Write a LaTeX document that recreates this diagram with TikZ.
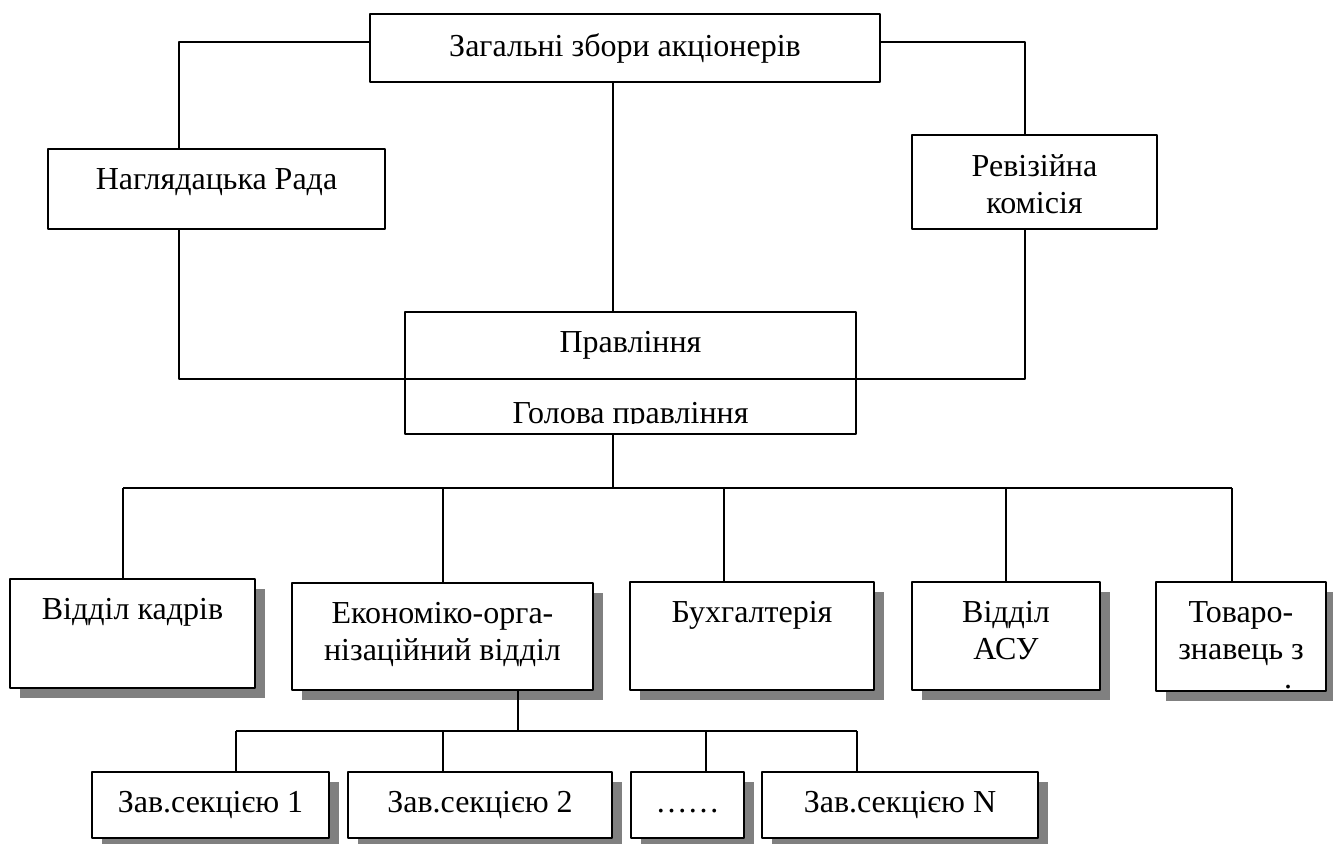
\documentclass[tikz,border=0pt]{standalone}
\usepackage{fontspec}
\setmainfont{Liberation Serif}
\usetikzlibrary{positioning,fit,shadows}

\begin{document}
\begin{tikzpicture}[x=0.5pt, y=-0.5pt, line join=round, font=\fontsize{16}{18.5}\selectfont,
  box/.style={draw, line width=0.9pt, fill=white, inner sep=0pt},
  shbox/.style={box, line width=1.2pt, drop shadow={shadow xshift=5pt, shadow yshift=-5pt, opacity=1, fill=black!50}},
  txt/.style={anchor=north, align=center, inner sep=0pt, yshift=-10pt},
  conn/.style={line width=0.8pt}]
\useasboundingbox (0,0) rectangle (1333,843);
% upper level
\node[box, fit={(370,14) (880,82)},   label={[txt]north:Загальні збори акціонерів}] (zag) {};
\node[box, fit={(48,149) (385,229)},  label={[txt]north:Наглядацька Рада}] (nag) {};
\node[box, fit={(912,135) (1157,229)},label={[txt]north:{Ревізійна\\комісія}}] (rev) {};
\node[box, fit={(405,379) (856,434)}] (golova) {};
\begin{scope}
\clip (405,379) rectangle (856,423);
\node[txt, yshift=-2pt] (golova-t) at (golova.north) {Голова правління};
\end{scope}
\node[box, fit={(405,312) (856,379)}, label={[txt]north:Правління}] (prav) {};
% departments
\node[shbox, fit={(10,579) (255,688)},   label={[txt]north:Відділ кадрів}] (kadry) {};
\node[shbox, fit={(292,583) (593,690)},  label={[txt]north:{Економіко-орга-\\нізаційний відділ}}] (econ) {};
\node[shbox, fit={(630,582) (874,690)},  label={[txt]north:Бухгалтерія}] (buh) {};
\node[shbox, fit={(912,582) (1100,690)}, label={[txt]north:{Відділ\\АСУ}}] (asu) {};
\node[shbox, fit={(1156,582) (1326,691)},label={[txt]north:{Товаро-\\знавець з}}] (tov) {};
\node[inner sep=0pt, anchor=south] (tov-dot) at (1288,689) {.};
% sections
\node[shbox, fit={(92,772) (329,838)},   label={[txt]north:Зав.секцією 1}] (sec1) {};
\node[shbox, fit={(348,772) (612,838)},  label={[txt]north:Зав.секцією 2}] (sec2) {};
\node[shbox, fit={(631,772) (744,838)},  label={[txt]north:{\vphantom{З}……}}] (secd) {};
\node[shbox, fit={(762,772) (1038,838)}, label={[txt]north:Зав.секцією N}] (secn) {};

\coordinate (lt)   at (179,42);
\coordinate (rt)   at (1025,42);
\coordinate (lb)   at (179,379);
\coordinate (rb)   at (1025,379);
\coordinate (mid)  at (613,0);
\coordinate (bus)  at (123,488);
\coordinate (busr) at (1232,488);
\coordinate (sub)  at (236,731);
\coordinate (subr) at (857,731);

\draw[conn] (lt -| zag.west) -- (lt) -- (lt |- nag.north);
\draw[conn] (rt -| zag.east) -- (rt) -- (rt |- rev.north);
\draw[conn] (lb |- nag.south) -- (lb) -- (rb) -- (rb |- rev.south);
\draw[conn] (mid |- zag.south) -- (mid |- prav.north);
\draw[conn] (mid |- golova.south) -- (mid |- bus);
\draw[conn] (bus) -- (busr);
\foreach \x/\n in {123/kadry, 443/econ, 724/buh, 1006/asu, 1232/tov}
  \draw[conn] (\x,488) -- (\x,488 |- \n.north);
\draw[conn] (518,731 |- econ.south) -- (518,731);
\draw[conn] (sub) -- (subr);
\foreach \x/\n in {236/sec1, 443/sec2, 706/secd, 857/secn}
  \draw[conn] (\x,731) -- (\x,731 |- \n.north);
\end{tikzpicture}
\end{document}
